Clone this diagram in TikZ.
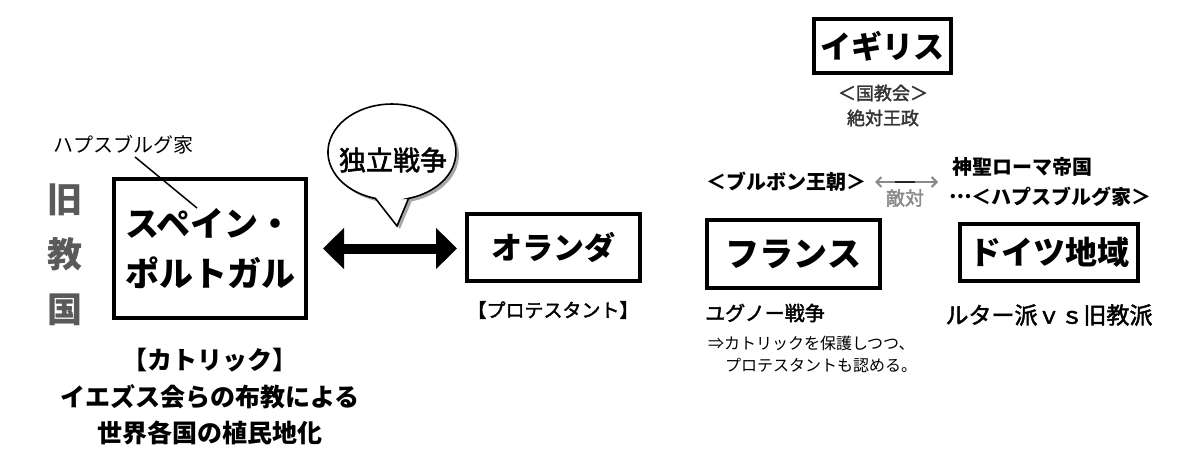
\documentclass[tikz,border=0pt]{standalone}
\usepackage{fontspec}
\setmainfont{Noto Sans CJK JP}
\newfontfamily\jpmed[FakeBold=2]{Noto Sans CJK JP}
\usetikzlibrary{arrows.meta}
\newcommand\myfs[2]{\fontsize{#1}{#2}\selectfont}
\definecolor{kyugray}{HTML}{5A5A5A}
\definecolor{darktxt}{HTML}{333333}
\definecolor{tekigray}{HTML}{8A8A8A}
\begin{document}
\begin{tikzpicture}[x=1pt,y=-1pt,
  box/.style={draw, line width=4pt, inner sep=0pt, align=center},
  lbl/.style={inner sep=0pt, align=center},
  bigarrow/.style={line width=10pt, {Triangle[width=40pt,length=21pt]}-{Triangle[width=40pt,length=21pt]}},
  grayarrow/.style={draw=tekigray, line width=2pt, {Straight Barb[length=5pt,width=10pt]}-{Straight Barb[length=5pt,width=10pt]}},
]
\fill[white] (0,0) rectangle (1200,460);
\useasboundingbox (0,0) rectangle (1200,460);

% ---------- left part ----------
\node[box, minimum width=192pt, minimum height=139pt, font=\bfseries\myfs{34}{50}, align=left] (spain) at (210,248.5) {スペイン・\\ポルトガル};
\node[lbl, font=\myfs{20}{20}] (haps) at (123,145) {ハプスブルグ家};
\coordinate (hapsA) at (135,157);
\coordinate (hapsB) at (197,208);
\draw[line width=1.5pt] (hapsA) -- (hapsB);

\node[lbl, text=kyugray, font=\bfseries\myfs{35}{55}] (kyu) at (65,255) {旧\\教\\国};

\node[lbl, font=\bfseries\myfs{25}{36.5}] (cath) at (210,397) {【カトリック】\\イエズス会らの布教による\\世界各国の植民地化};

% ---------- speech bubble ----------
\fill[gray!70] ([shift={(3,3)}]408.6,198.4) -- ([shift={(3,3)}]397,226) -- ([shift={(3,3)}]375.4,198.4)
   arc[start angle=105, end angle=435, x radius=64, y radius=48] -- cycle;
\filldraw[fill=white, draw=black, line width=1.6pt] (408.6,198.4) -- (397,226) -- (375.4,198.4)
   arc[start angle=105, end angle=435, x radius=64, y radius=48] -- cycle;
\node[lbl, font=\jpmed\myfs{27}{27}] (dokuritsu) at (393,160) {独立戦争};

% ---------- Netherlands ----------
\node[box, minimum width=173pt, minimum height=67pt, font=\bfseries\myfs{31}{31}] (oranda) at (553.5,247.5) {オランダ};
\draw[bigarrow, shorten <=15pt, shorten >=8pt] (spain.east) -- (spain.east -| oranda.west);
\node[lbl, font=\jpmed\myfs{19}{19}] (prot) at (553,310) {【プロテスタント】};

% ---------- England ----------
\node[box, minimum width=137pt, minimum height=54pt, font=\bfseries\myfs{31}{31}] (england) at (882.5,46) {イギリス};
\node[lbl, text=darktxt, font=\jpmed\myfs{18}{25}] (anglican) at (883,105.5) {＜国教会＞\\絶対王政};

% ---------- France ----------
\node[lbl, font=\bfseries\myfs{20}{20}] (bourbon) at (786.5,182) {＜ブルボン王朝＞};
\coordinate (tekiL) at (875,182);
\coordinate (tekiR) at (938,182);
\draw[grayarrow] (tekiL) -- (tekiR);
\coordinate (midL) at (895,182);
\coordinate (midR) at (915,182);
\draw[draw=gray!30!black, line width=2pt] (midL) -- (midR);
\node[lbl, text=tekigray, font=\jpmed\myfs{19}{19}] (teki) at (905,198) {敵対};

\node[box, minimum width=173pt, minimum height=68pt, font=\bfseries\myfs{34}{34}] (france) at (793.5,254) {フランス};
\node[lbl, anchor=west, font=\jpmed\myfs{20}{20}] (huguenot) at (705,313) {ユグノー戦争};
\node[lbl, anchor=west, font=\myfs{16}{16}] (prot1) at (708,343) {⇒カトリックを保護しつつ、};
\node[lbl, anchor=west, font=\myfs{16}{16}] (prot2) at (725,365) {プロテスタントも認める。};

% ---------- Germany ----------
\node[lbl, anchor=west, font=\bfseries\myfs{20}{20}] (hre) at (952,167) {神聖ローマ帝国};
\node[lbl, anchor=west, font=\bfseries\myfs{20}{20}] (habs2) at (949,197) {\raisebox{0.32em}{…}＜ハプスブルグ家＞};
\node[box, minimum width=178pt, minimum height=57pt, font=\bfseries\myfs{32}{32}] (germany) at (1049,252.5) {ドイツ地域};
\node[lbl, font=\jpmed\myfs{23}{23}] (luther) at (1049,315) {ルター派ｖｓ旧教派};
\end{tikzpicture}
\end{document}
